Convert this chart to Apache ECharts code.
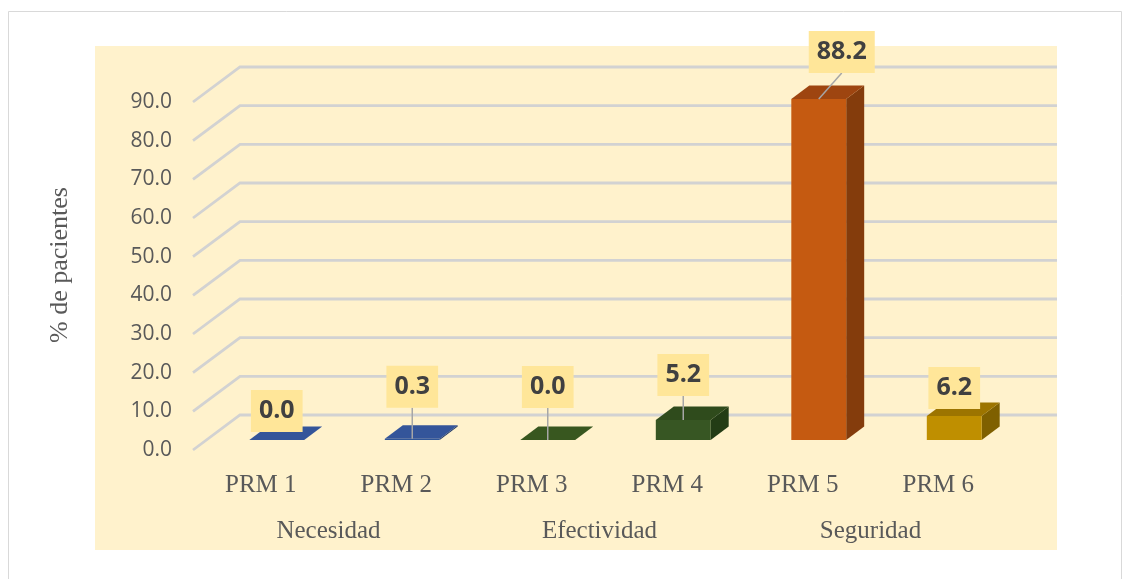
<!DOCTYPE html>
<html>
<head>
<meta charset="utf-8">
<script src="https://cdn.jsdelivr.net/npm/echarts@6/dist/echarts.min.js"></script>
<style>
  html, body { margin: 0; padding: 0; background: #fff; }
  #chart { width: 1131px; height: 579px; }
</style>
</head>
<body>
<div id="chart"></div>
<script>
// chart data
var categories = ['PRM 1', 'PRM 2', 'PRM 3', 'PRM 4', 'PRM 5', 'PRM 6'];
var groups     = ['Necesidad', 'Efectividad', 'Seguridad'];
var values     = [0.0, 0.3, 0.0, 5.2, 88.2, 6.2];
var yTicks     = [0, 10, 20, 30, 40, 50, 60, 70, 80, 90];

// face colours per bar: front, side, top
var barColors = [
    ['#2f5597', '#203864', '#34559a'],
    ['#2f5597', '#203864', '#34559a'],
    ['#375623', '#233c15', '#38571f'],
    ['#375623', '#233c15', '#2f4b1c'],
    ['#c55a11', '#843c0c', '#9e4510'],
    ['#bf8f00', '#7f6000', '#9c7400']
];

// label box offset from the bar's front-top centre
var labelOffsets = [[0, -29], [0, -52], [0, -53], [0, -45], [23, -47], [0, -28]];

var floorDepth = [47, -35];
var barDepth = [18, -13.5];

function renderGridLine(params, api) {
    var y = api.coord([0, api.value(1)])[1];
    var cs = params.coordSys;
    return {
        type: 'polyline',
        shape: {
            points: [
                [cs.x, y],
                [cs.x + floorDepth[0], y + floorDepth[1]],
                [cs.x + cs.width + 51, y + floorDepth[1]]
            ]
        },
        style: { stroke: '#d2d2d2', lineWidth: 2.8, fill: null },
        silent: true
    };
}

function renderBar(params, api) {
    var idx = api.value(0);
    var v = api.value(1);
    var base = api.coord([idx, 0]);
    var top = api.coord([idx, v]);
    var bw = api.size([1, 0])[0] * 0.405;
    var x0 = base[0] - bw / 2, x1 = base[0] + bw / 2;
    var yb = base[1], yt = top[1];
    var dx = barDepth[0], dy = barDepth[1];
    var c = barColors[idx];
    var off = labelOffsets[idx];
    var lx = base[0] + off[0], ly = yt + off[1];

    var children = [
        {
            type: 'polygon',
            shape: { points: [[x1, yb], [x1, yt], [x1 + dx, yt + dy], [x1 + dx, yb + dy]] },
            style: { fill: c[1] }
        },
        {
            type: 'rect',
            shape: { x: x0, y: yt, width: bw, height: yb - yt },
            style: { fill: c[0] }
        },
        {
            type: 'polygon',
            shape: { points: [[x0, yt], [x1, yt], [x1 + dx, yt + dy], [x0 + dx, yt + dy]] },
            style: { fill: c[2] }
        }
    ];

    if (yt - (ly + 21) > 8) {
        children.push({
            type: 'line',
            shape: { x1: lx, y1: ly + 21, x2: base[0], y2: yt },
            style: { stroke: '#a6a6a6', lineWidth: 1.5 }
        });
    }

    children.push({
        type: 'text',
        x: lx,
        y: ly,
        style: {
            text: v.toFixed(1),
            fill: '#404040',
            font: 'bold 25px "Open Sans"',
            align: 'center',
            verticalAlign: 'middle',
            backgroundColor: '#ffe699',
            padding: [9, 8, 8, 8]
        }
    });

    return { type: 'group', children: children };
}

var chart = echarts.init(document.getElementById('chart'));

chart.setOption({
    animation: false,
    graphic: [
        {
            type: 'rect',
            z: -10,
            shape: { x: 8.5, y: 11.5, width: 1113, height: 580 },
            style: { fill: '#fff', stroke: '#d9d9d9', lineWidth: 1 }
        },
        {
            type: 'rect',
            z: -9,
            shape: { x: 95, y: 46, width: 962, height: 504 },
            style: { fill: '#fff2cc' }
        }
    ],
    grid: [
        { left: 193, right: 125, top: 102, bottom: 129 },
        { left: 209, right: 109, top: 92, bottom: 139 }
    ],
    xAxis: [
        {
            type: 'category',
            gridIndex: 0,
            data: categories,
            axisLine: { show: false },
            axisTick: { show: false },
            axisLabel: {
                margin: 23,
                fontFamily: 'Liberation Serif',
                fontSize: 25,
                color: '#595959'
            }
        },
        {
            type: 'category',
            gridIndex: 0,
            position: 'bottom',
            offset: 46,
            data: groups,
            axisLine: { show: false },
            axisTick: { show: false },
            axisLabel: {
                margin: 23,
                fontFamily: 'Liberation Serif',
                fontSize: 25,
                color: '#595959'
            }
        },
        {
            type: 'category',
            gridIndex: 1,
            data: categories,
            show: false
        }
    ],
    yAxis: [
        {
            type: 'value',
            gridIndex: 0,
            min: 0,
            max: 90,
            interval: 10,
            name: '% de pacientes',
            nameLocation: 'middle',
            nameGap: 120,
            nameRotate: 90,
            nameTextStyle: {
                fontFamily: 'Liberation Serif',
                fontSize: 26,
                color: '#595959',
                padding: [0, 0, 0, 22]
            },
            axisLine: { show: false },
            axisTick: { show: false },
            splitLine: { show: false },
            axisLabel: {
                margin: 21,
                fontFamily: 'Open Sans',
                fontSize: 21,
                color: '#595959',
                formatter: function (v) { return v.toFixed(1); }
            }
        },
        {
            type: 'value',
            gridIndex: 1,
            min: 0,
            max: 90,
            interval: 10,
            show: false
        }
    ],
    series: [
        {
            type: 'custom',
            xAxisIndex: 0,
            yAxisIndex: 0,
            z: 1,
            renderItem: renderGridLine,
            data: yTicks.map(function (t) { return [0, t]; })
        },
        {
            type: 'custom',
            xAxisIndex: 2,
            yAxisIndex: 1,
            z: 3,
            renderItem: renderBar,
            data: values.map(function (v, i) { return [i, v]; })
        }
    ]
});
</script>
</body>
</html>
